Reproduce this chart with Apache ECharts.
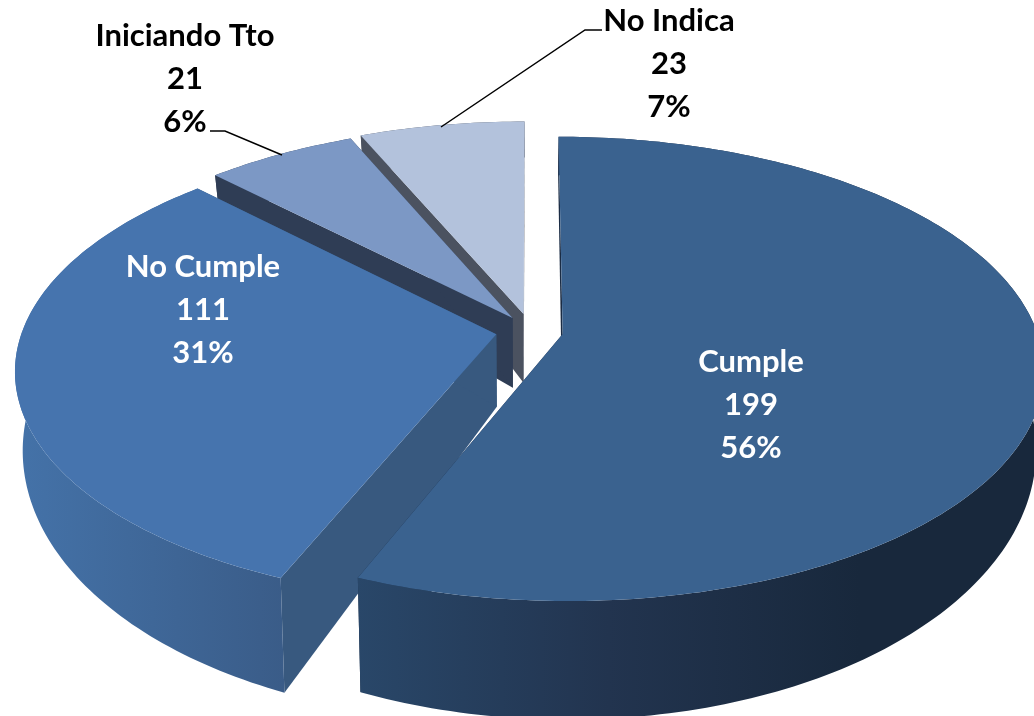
<!DOCTYPE html>
<html>
<head>
<meta charset="utf-8">
<style>html,body{margin:0;padding:0;background:#fff}#c{width:1034px;height:716px}</style>
<script src="https://cdn.jsdelivr.net/npm/echarts@6/dist/echarts.min.js"></script>
</head>
<body>
<div id="c"></div>
<script>
var categories = ['Cumple', 'No Cumple', 'Iniciando Tto', 'No Indica'];
var values = [199, 111, 21, 23];
var percentLabels = ['56%', '31%', '6%', '7%'];

var topColors = ['#3a628f', '#4674ae', '#7c98c5', '#b3c2dc'];
var wallColors = ['#1b2c44', '#38597f', '#2f3d55', '#4b5260'];
var sideStops = [
  [[0, '#294769'], [0.5, '#22344f'], [1, '#18283c']],
  [[0, '#4472a8'], [1, '#3a5c88']],
  [[0, '#2f3d55'], [1, '#2f3d55']],
  [[0, '#4b5260'], [1, '#4b5260']]
];
var sideRange = [[357, 860], [20, 285], [200, 360], [360, 530]];
var explode = [0.068, 0.0745, 0.07, 0.078];
var drawOrder = [4, 3, 2, 1];
var textColors = ['#ffffff', '#ffffff', '#000000', '#000000'];
var labelCenters = [[751, 405], [203, 310], [185, 79], [669, 64]];
var leaders = [null, null, [[210, 131], [225, 131], [282, 155]], [[602, 30], [585, 30], [441, 127]]];

var view = { cx: 531, cy: 331, rx: 474, ry: 226, p: 0.15, depth: 72, ryBottom: 265, kBottom: 0.985 };

var total = values.reduce(function (a, b) { return a + b; }, 0);
var starts = [];
values.reduce(function (acc, v, i) { starts[i] = acc; return acc + v / total * Math.PI * 2; }, 0);

function project(u, v, bottom) {
  var d = 1 + view.p * v;
  if (bottom) return [view.cx + view.rx * view.kBottom * u / d, view.cy + view.depth - view.ryBottom * v / d];
  return [view.cx + view.rx * u / d, view.cy - view.ry * v / d];
}

function renderItem(params, api) {
  var i = params.dataIndex;
  var a0 = starts[i], sweep = api.value(1) / total * Math.PI * 2;
  var mid = a0 + sweep / 2;
  var ou = explode[i] * Math.sin(mid), ov = explode[i] * Math.cos(mid);
  var n = Math.max(8, Math.round(sweep * 180 / Math.PI));
  var rimT = [], rimB = [];
  for (var k = 0; k <= n; k++) {
    var a = a0 + sweep * k / n;
    var u = ou + Math.sin(a), v = ov + Math.cos(a);
    rimT.push(project(u, v, false));
    rimB.push(project(u, v, true));
  }
  var apexT = project(ou, ov, false), apexB = project(ou, ov, true);
  var order = drawOrder[i] * 10;
  var kids = [];
  function poly(points, fill, z) {
    kids.push({ type: 'polygon', shape: { points: points }, style: { fill: fill, stroke: null }, z2: z, silent: true });
  }
  poly([apexT, rimT[0], rimB[0], apexB], wallColors[i], order + 1);
  poly([apexT, rimT[n], rimB[n], apexB], wallColors[i], order + 1);
  var grad = { type: 'linear', x: sideRange[i][0], y: 0, x2: sideRange[i][1], y2: 0, global: true,
    colorStops: sideStops[i].map(function (s) { return { offset: s[0], color: s[1] }; }) };
  poly(rimT.concat(rimB.slice().reverse()), grad, order + 2);
  poly([apexT].concat(rimT), topColors[i], order + 3);
  if (leaders[i]) {
    kids.push({ type: 'polyline', shape: { points: leaders[i] }, style: { stroke: '#000', lineWidth: 1.5, fill: null }, z2: 100, silent: true });
  }
  kids.push({ type: 'text', z2: 101, silent: true, style: {
    x: labelCenters[i][0], y: labelCenters[i][1], text: categories[i] + '\n' + api.value(1) + '\n' + percentLabels[i],
    fill: textColors[i], font: 'bold 31px Lato', lineHeight: 43, align: 'center', verticalAlign: 'middle' } });
  return { type: 'group', children: kids };
}

var chart = echarts.init(document.getElementById('c'), null, { renderer: 'canvas' });
chart.setOption({
  animation: false,
  backgroundColor: '#ffffff',
  series: [{
    type: 'custom',
    coordinateSystem: 'none',
    renderItem: renderItem,
    data: categories.map(function (c, i) { return { name: c, value: [i, values[i]] }; })
  }]
});
</script>
</body>
</html>
